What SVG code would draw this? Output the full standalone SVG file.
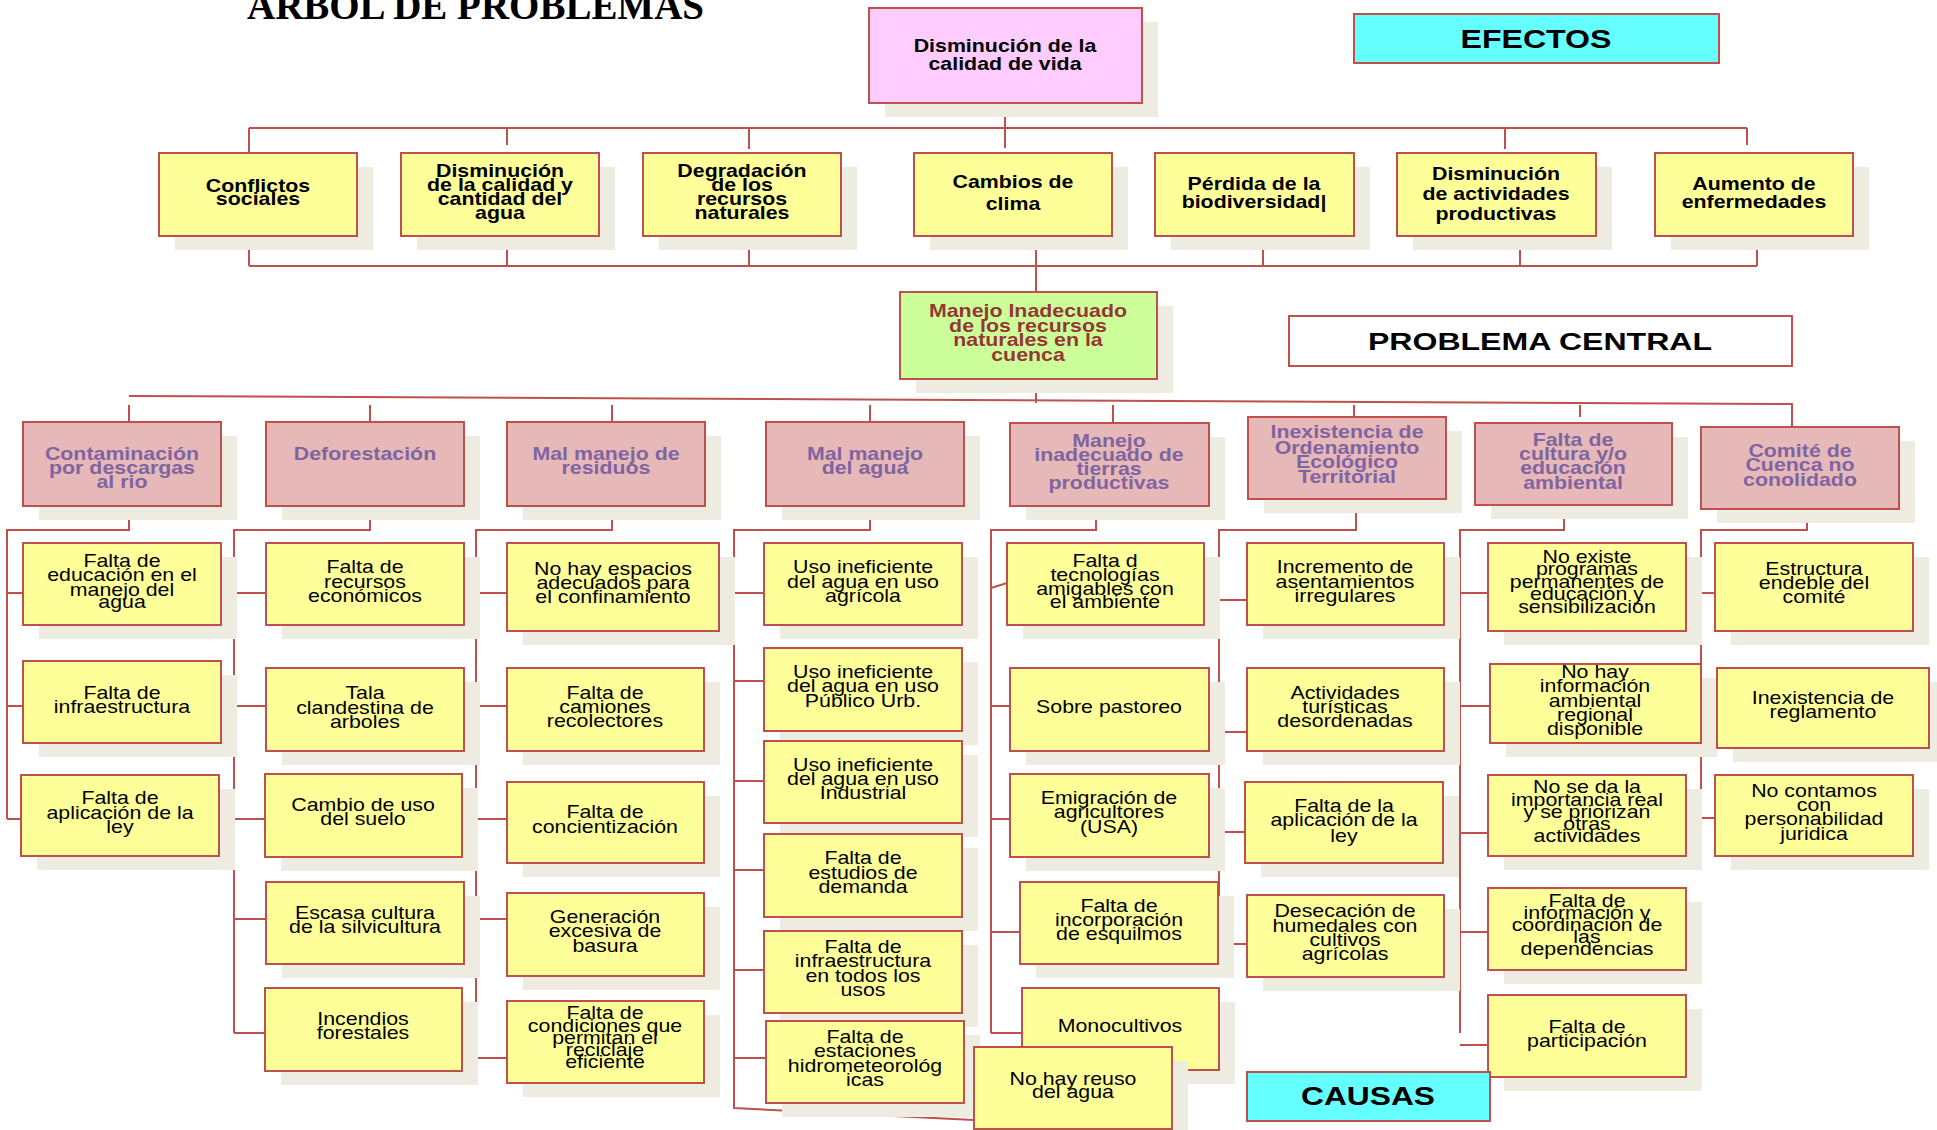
<svg xmlns="http://www.w3.org/2000/svg" width="1937" height="1130" viewBox="0 0 1937 1130">
<style>
.bx{stroke:#C0504D;stroke-width:2}
.y{fill:#FFFF99}
.c{fill:#E6B9B8}
.sh{fill:#EEECE1}
.t{font-family:"Liberation Sans",Arial,sans-serif;font-size:17.5px;text-anchor:middle;fill:#000}
.b{font-weight:bold}
.p{fill:#8064A2}
.r{fill:#953735}
.big{font-family:"Liberation Sans",Arial,sans-serif;font-weight:bold;text-anchor:middle;fill:#000}
.ln{stroke:#C0504D;stroke-width:2;fill:none}
</style>
<rect width="1937" height="1130" fill="#FFFFFF"/>
<text id="title" x="247" y="19" font-family="'Liberation Serif',serif" font-weight="bold" font-size="39" textLength="457" lengthAdjust="spacingAndGlyphs">ARBOL DE PROBLEMAS</text>

<g id="connectors">
<path class="ln" d="M1005 103V148M249 128H1747M249 128V153M507 128V145M749 128V149M1505 128V149M1747 128V145"/>
<path class="ln" d="M249 266H1757M249 241V266M507 241V266M749 241V266M1263 241V266M1520 241V266M1757 241V266M1036 241V292"/>
<path class="ln" d="M1036 379V403M129 396L1792 404V429M129 405V422M370 405V429M612 405V429M870 405V422M1113 405V423M1354 405V416M1580 405V417"/>
<path class="ln" d="M129 506V530H7V819M7 593H23M7 706H23M7 819H21"/>
<path class="ln" d="M370 506V530H234V1033M234 593H266M234 706H266M234 819H265M234 919H266M234 1033H280"/>
<path class="ln" d="M612 506V530H476V1058M476 593H507M476 706H507M476 819H507M476 919H507M476 1058H507"/>
<path class="ln" d="M870 506V530H734V1108L974 1120M734 593H764M734 681H764M734 781H764M734 870H764M734 970H764M734 1058H766"/>
<path class="ln" d="M1096 506V530H991V1033M991 588L1007 583M991 706H1010M991 819H1010M991 932H1020M991 1033H1022"/>
<path class="ln" d="M1356 499V530H1219V944M1219 600H1247M1219 732H1247M1219 832H1263M1219 944H1247"/>
<path class="ln" d="M1564 505V530H1460V1033M1460 593H1488M1460 706H1490M1460 833H1488M1460 932H1488M1460 1045H1488"/>
<path class="ln" d="M1807 509V530H1701V818M1686 593H1715M1701 706H1733M1701 818H1733"/>
</g>

<g id="n-top">
<rect class="sh" x="885" y="22" width="273" height="95"/>
<rect class="bx" fill="#FFCCFF" x="869" y="8" width="273" height="95"/>
<text class="t b" transform="matrix(1.22 0 0 1 1005 0)"><tspan x="0" y="52">Disminución de la</tspan><tspan x="0" y="70">calidad de vida</tspan></text>
</g>
<g id="l-efectos">
<rect class="bx" fill="#66FFFF" x="1354" y="14" width="365" height="49"/>
<text class="big" x="1536" y="48" font-size="25" textLength="151" lengthAdjust="spacingAndGlyphs">EFECTOS</text>
</g>

<g id="e1"><rect class="sh" x="175" y="167" width="198" height="83"/><rect class="bx y" x="159" y="153" width="198" height="83"/>
<text class="t b" transform="matrix(1.22 0 0 1 258 0)"><tspan x="0" y="192">Conflictos</tspan><tspan x="0" y="205">sociales</tspan></text></g>
<g id="e2"><rect class="sh" x="417" y="167" width="198" height="83"/><rect class="bx y" x="401" y="153" width="198" height="83"/>
<text class="t b" transform="matrix(1.22 0 0 1 500 0)"><tspan x="0" y="177">Disminución</tspan><tspan x="0" y="191">de la calidad y</tspan><tspan x="0" y="205">cantidad del</tspan><tspan x="0" y="219">agua</tspan></text></g>
<g id="e3"><rect class="sh" x="659" y="167" width="198" height="83"/><rect class="bx y" x="643" y="153" width="198" height="83"/>
<text class="t b" transform="matrix(1.22 0 0 1 742 0)"><tspan x="0" y="177">Degradación</tspan><tspan x="0" y="191">de los</tspan><tspan x="0" y="205">recursos</tspan><tspan x="0" y="219">naturales</tspan></text></g>
<g id="e4"><rect class="sh" x="930" y="167" width="198" height="83"/><rect class="bx y" x="914" y="153" width="198" height="83"/>
<text class="t b" transform="matrix(1.22 0 0 1 1013 0)"><tspan x="0" y="188">Cambios de</tspan><tspan x="0" y="210">clima</tspan></text></g>
<g id="e5"><rect class="sh" x="1171" y="167" width="199" height="83"/><rect class="bx y" x="1155" y="153" width="199" height="83"/>
<text class="t b" transform="matrix(1.22 0 0 1 1254 0)"><tspan x="0" y="190">Pérdida de la</tspan><tspan x="0" y="208">biodiversidad|</tspan></text></g>
<g id="e6"><rect class="sh" x="1413" y="167" width="199" height="83"/><rect class="bx y" x="1397" y="153" width="199" height="83"/>
<text class="t b" transform="matrix(1.22 0 0 1 1496 0)"><tspan x="0" y="180">Disminución</tspan><tspan x="0" y="200">de actividades</tspan><tspan x="0" y="220">productivas</tspan></text></g>
<g id="e7"><rect class="sh" x="1671" y="167" width="198" height="83"/><rect class="bx y" x="1655" y="153" width="198" height="83"/>
<text class="t b" transform="matrix(1.22 0 0 1 1754 0)"><tspan x="0" y="190">Aumento de</tspan><tspan x="0" y="208">enfermedades</tspan></text></g>

<g id="n-central">
<rect class="sh" x="916" y="306" width="257" height="87"/>
<rect class="bx" fill="#CCFF99" x="900" y="292" width="257" height="87"/>
<text class="t b r" transform="matrix(1.22 0 0 1 1028 0)"><tspan x="0" y="317">Manejo Inadecuado</tspan><tspan x="0" y="332">de los recursos</tspan><tspan x="0" y="346">naturales en la</tspan><tspan x="0" y="361">cuenca</tspan></text>
</g>
<g id="l-problema">
<rect class="bx" fill="#FFFFFF" x="1289" y="316" width="503" height="50"/>
<text class="big" x="1540" y="350" font-size="24" textLength="344" lengthAdjust="spacingAndGlyphs">PROBLEMA CENTRAL</text>
</g>

<g id="c1"><rect class="sh" x="39" y="436" width="198" height="84"/><rect class="bx c" x="23" y="422" width="198" height="84"/>
<text class="t b p" transform="matrix(1.22 0 0 1 122 0)"><tspan x="0" y="460">Contaminación</tspan><tspan x="0" y="474">por descargas</tspan><tspan x="0" y="488">al rio</tspan></text></g>
<g id="c2"><rect class="sh" x="282" y="436" width="198" height="84"/><rect class="bx c" x="266" y="422" width="198" height="84"/>
<text class="t b p" transform="matrix(1.22 0 0 1 365 0)"><tspan x="0" y="460">Deforestación</tspan></text></g>
<g id="c3"><rect class="sh" x="523" y="436" width="198" height="84"/><rect class="bx c" x="507" y="422" width="198" height="84"/>
<text class="t b p" transform="matrix(1.22 0 0 1 606 0)"><tspan x="0" y="460">Mal manejo de</tspan><tspan x="0" y="474">residuos</tspan></text></g>
<g id="c4"><rect class="sh" x="782" y="436" width="198" height="84"/><rect class="bx c" x="766" y="422" width="198" height="84"/>
<text class="t b p" transform="matrix(1.22 0 0 1 865 0)"><tspan x="0" y="460">Mal manejo</tspan><tspan x="0" y="474">del agua</tspan></text></g>
<g id="c5"><rect class="sh" x="1026" y="437" width="199" height="83"/><rect class="bx c" x="1010" y="423" width="199" height="83"/>
<text class="t b p" transform="matrix(1.22 0 0 1 1109 0)"><tspan x="0" y="447">Manejo</tspan><tspan x="0" y="461">inadecuado de</tspan><tspan x="0" y="475">tierras</tspan><tspan x="0" y="489">productivas</tspan></text></g>
<g id="c6"><rect class="sh" x="1264" y="431" width="198" height="82"/><rect class="bx c" x="1248" y="417" width="198" height="82"/>
<text class="t b p" transform="matrix(1.22 0 0 1 1347 0)"><tspan x="0" y="438">Inexistencia de</tspan><tspan x="0" y="454">Ordenamiento</tspan><tspan x="0" y="468">Ecológico</tspan><tspan x="0" y="483">Territorial</tspan></text></g>
<g id="c7"><rect class="sh" x="1491" y="437" width="197" height="82"/><rect class="bx c" x="1475" y="423" width="197" height="82"/>
<text class="t b p" transform="matrix(1.22 0 0 1 1573 0)"><tspan x="0" y="446">Falta de</tspan><tspan x="0" y="460">cultura y/o</tspan><tspan x="0" y="474">educación</tspan><tspan x="0" y="489">ambiental</tspan></text></g>
<g id="c8"><rect class="sh" x="1717" y="441" width="198" height="82"/><rect class="bx c" x="1701" y="427" width="198" height="82"/>
<text class="t b p" transform="matrix(1.22 0 0 1 1800 0)"><tspan x="0" y="457">Comité de</tspan><tspan x="0" y="471">Cuenca no</tspan><tspan x="0" y="486">conolidado</tspan></text></g>

<g id="k1a"><rect class="sh" x="39" y="557" width="198" height="82"/><rect class="bx y" x="23" y="543" width="198" height="82"/>
<text class="t" transform="matrix(1.22 0 0 1 122 0)"><tspan x="0" y="567">Falta de</tspan><tspan x="0" y="581">educación en el</tspan><tspan x="0" y="596">manejo del</tspan><tspan x="0" y="608">agua</tspan></text></g>
<g id="k1b"><rect class="sh" x="39" y="675" width="198" height="82"/><rect class="bx y" x="23" y="661" width="198" height="82"/>
<text class="t" transform="matrix(1.22 0 0 1 122 0)"><tspan x="0" y="699">Falta de</tspan><tspan x="0" y="713">infraestructura</tspan></text></g>
<g id="k1c"><rect class="sh" x="37" y="789" width="198" height="81"/><rect class="bx y" x="21" y="775" width="198" height="81"/>
<text class="t" transform="matrix(1.22 0 0 1 120 0)"><tspan x="0" y="804">Falta de</tspan><tspan x="0" y="819">aplicación de la</tspan><tspan x="0" y="833">ley</tspan></text></g>

<g id="k2a"><rect class="sh" x="282" y="557" width="198" height="82"/><rect class="bx y" x="266" y="543" width="198" height="82"/>
<text class="t" transform="matrix(1.22 0 0 1 365 0)"><tspan x="0" y="573">Falta de</tspan><tspan x="0" y="588">recursos</tspan><tspan x="0" y="602">económicos</tspan></text></g>
<g id="k2b"><rect class="sh" x="282" y="682" width="198" height="83"/><rect class="bx y" x="266" y="668" width="198" height="83"/>
<text class="t" transform="matrix(1.22 0 0 1 365 0)"><tspan x="0" y="699">Tala</tspan><tspan x="0" y="714">clandestina de</tspan><tspan x="0" y="728">arboles</tspan></text></g>
<g id="k2c"><rect class="sh" x="281" y="788" width="197" height="83"/><rect class="bx y" x="265" y="774" width="197" height="83"/>
<text class="t" transform="matrix(1.22 0 0 1 363 0)"><tspan x="0" y="811">Cambio de uso</tspan><tspan x="0" y="825">del suelo</tspan></text></g>
<g id="k2d"><rect class="sh" x="282" y="896" width="198" height="82"/><rect class="bx y" x="266" y="882" width="198" height="82"/>
<text class="t" transform="matrix(1.22 0 0 1 365 0)"><tspan x="0" y="919">Escasa cultura</tspan><tspan x="0" y="933">de la silvicultura</tspan></text></g>
<g id="k2e"><rect class="sh" x="281" y="1002" width="197" height="83"/><rect class="bx y" x="265" y="988" width="197" height="83"/>
<text class="t" transform="matrix(1.22 0 0 1 363 0)"><tspan x="0" y="1025">Incendios</tspan><tspan x="0" y="1039">forestales</tspan></text></g>

<g id="k3a"><rect class="sh" x="523" y="557" width="212" height="88"/><rect class="bx y" x="507" y="543" width="212" height="88"/>
<text class="t" transform="matrix(1.22 0 0 1 613 0)"><tspan x="0" y="575">No hay espacios</tspan><tspan x="0" y="589">adecuados para</tspan><tspan x="0" y="603">el confinamiento</tspan></text></g>
<g id="k3b"><rect class="sh" x="523" y="682" width="197" height="83"/><rect class="bx y" x="507" y="668" width="197" height="83"/>
<text class="t" transform="matrix(1.22 0 0 1 605 0)"><tspan x="0" y="699">Falta de</tspan><tspan x="0" y="713">camiones</tspan><tspan x="0" y="727">recolectores</tspan></text></g>
<g id="k3c"><rect class="sh" x="523" y="796" width="197" height="81"/><rect class="bx y" x="507" y="782" width="197" height="81"/>
<text class="t" transform="matrix(1.22 0 0 1 605 0)"><tspan x="0" y="818">Falta de</tspan><tspan x="0" y="833">concientización</tspan></text></g>
<g id="k3d"><rect class="sh" x="523" y="907" width="197" height="83"/><rect class="bx y" x="507" y="893" width="197" height="83"/>
<text class="t" transform="matrix(1.22 0 0 1 605 0)"><tspan x="0" y="923">Generación</tspan><tspan x="0" y="937">excesiva de</tspan><tspan x="0" y="952">basura</tspan></text></g>
<g id="k3e"><rect class="sh" x="523" y="1015" width="197" height="82"/><rect class="bx y" x="507" y="1001" width="197" height="82"/>
<text class="t" transform="matrix(1.22 0 0 1 605 0)"><tspan x="0" y="1019">Falta de</tspan><tspan x="0" y="1032">condiciones que</tspan><tspan x="0" y="1044">permitan el</tspan><tspan x="0" y="1056">reciclaje</tspan><tspan x="0" y="1068">eficiente</tspan></text></g>

<g id="k4a"><rect class="sh" x="780" y="557" width="198" height="82"/><rect class="bx y" x="764" y="543" width="198" height="82"/>
<text class="t" transform="matrix(1.22 0 0 1 863 0)"><tspan x="0" y="573">Uso ineficiente</tspan><tspan x="0" y="588">del agua en uso</tspan><tspan x="0" y="602">agrícola</tspan></text></g>
<g id="k4b"><rect class="sh" x="780" y="662" width="198" height="83"/><rect class="bx y" x="764" y="648" width="198" height="83"/>
<text class="t" transform="matrix(1.22 0 0 1 863 0)"><tspan x="0" y="678">Uso ineficiente</tspan><tspan x="0" y="692">del agua en uso</tspan><tspan x="0" y="707">Público Urb.</tspan></text></g>
<g id="k4c"><rect class="sh" x="780" y="755" width="198" height="82"/><rect class="bx y" x="764" y="741" width="198" height="82"/>
<text class="t" transform="matrix(1.22 0 0 1 863 0)"><tspan x="0" y="771">Uso ineficiente</tspan><tspan x="0" y="785">del agua en uso</tspan><tspan x="0" y="799">Industrial</tspan></text></g>
<g id="k4d"><rect class="sh" x="780" y="848" width="198" height="83"/><rect class="bx y" x="764" y="834" width="198" height="83"/>
<text class="t" transform="matrix(1.22 0 0 1 863 0)"><tspan x="0" y="864">Falta de</tspan><tspan x="0" y="879">estudios de</tspan><tspan x="0" y="893">demanda</tspan></text></g>
<g id="k4e"><rect class="sh" x="780" y="945" width="198" height="82"/><rect class="bx y" x="764" y="931" width="198" height="82"/>
<text class="t" transform="matrix(1.22 0 0 1 863 0)"><tspan x="0" y="953">Falta de</tspan><tspan x="0" y="967">infraestructura</tspan><tspan x="0" y="982">en todos los</tspan><tspan x="0" y="996">usos</tspan></text></g>
<g id="k4f"><rect class="sh" x="782" y="1035" width="198" height="82"/><rect class="bx y" x="766" y="1021" width="198" height="82"/>
<text class="t" transform="matrix(1.22 0 0 1 865 0)"><tspan x="0" y="1043">Falta de</tspan><tspan x="0" y="1057">estaciones</tspan><tspan x="0" y="1072">hidrometeorológ</tspan><tspan x="0" y="1086">icas</tspan></text></g>

<g id="k5a"><rect class="sh" x="1023" y="557" width="197" height="82"/><rect class="bx y" x="1007" y="543" width="197" height="82"/>
<text class="t" transform="matrix(1.22 0 0 1 1105 0)"><tspan x="0" y="567">Falta d</tspan><tspan x="0" y="581">tecnologías</tspan><tspan x="0" y="595">amigables con</tspan><tspan x="0" y="608">el ambiente</tspan></text></g>
<g id="k5b"><rect class="sh" x="1026" y="682" width="199" height="83"/><rect class="bx y" x="1010" y="668" width="199" height="83"/>
<text class="t" transform="matrix(1.22 0 0 1 1109 0)"><tspan x="0" y="713">Sobre pastoreo</tspan></text></g>
<g id="k5c"><rect class="sh" x="1026" y="788" width="199" height="83"/><rect class="bx y" x="1010" y="774" width="199" height="83"/>
<text class="t" transform="matrix(1.22 0 0 1 1109 0)"><tspan x="0" y="804">Emigración de</tspan><tspan x="0" y="818">agricultores</tspan><tspan x="0" y="833">(USA)</tspan></text></g>
<g id="k5d"><rect class="sh" x="1036" y="896" width="198" height="82"/><rect class="bx y" x="1020" y="882" width="198" height="82"/>
<text class="t" transform="matrix(1.22 0 0 1 1119 0)"><tspan x="0" y="912">Falta de</tspan><tspan x="0" y="926">incorporación</tspan><tspan x="0" y="940">de esquilmos</tspan></text></g>
<g id="k5e"><rect class="sh" x="1038" y="1002" width="197" height="82"/><rect class="bx y" x="1022" y="988" width="197" height="82"/>
<text class="t" transform="matrix(1.22 0 0 1 1120 0)"><tspan x="0" y="1032">Monocultivos</tspan></text></g>

<g id="k6a"><rect class="sh" x="1263" y="557" width="197" height="82"/><rect class="bx y" x="1247" y="543" width="197" height="82"/>
<text class="t" transform="matrix(1.22 0 0 1 1345 0)"><tspan x="0" y="573">Incremento de</tspan><tspan x="0" y="588">asentamientos</tspan><tspan x="0" y="602">irregulares</tspan></text></g>
<g id="k6b"><rect class="sh" x="1263" y="682" width="197" height="83"/><rect class="bx y" x="1247" y="668" width="197" height="83"/>
<text class="t" transform="matrix(1.22 0 0 1 1345 0)"><tspan x="0" y="699">Actividades</tspan><tspan x="0" y="713">turísticas</tspan><tspan x="0" y="727">desordenadas</tspan></text></g>
<g id="k6c"><rect class="sh" x="1261" y="796" width="198" height="81"/><rect class="bx y" x="1245" y="782" width="198" height="81"/>
<text class="t" transform="matrix(1.22 0 0 1 1344 0)"><tspan x="0" y="812">Falta de la</tspan><tspan x="0" y="826">aplicación de la</tspan><tspan x="0" y="842">ley</tspan></text></g>
<g id="k6d"><rect class="sh" x="1263" y="909" width="197" height="82"/><rect class="bx y" x="1247" y="895" width="197" height="82"/>
<text class="t" transform="matrix(1.22 0 0 1 1345 0)"><tspan x="0" y="917">Desecación de</tspan><tspan x="0" y="932">humedales con</tspan><tspan x="0" y="946">cultivos</tspan><tspan x="0" y="960">agrícolas</tspan></text></g>

<g id="k7a"><rect class="sh" x="1504" y="557" width="198" height="88"/><rect class="bx y" x="1488" y="543" width="198" height="88"/>
<text class="t" transform="matrix(1.22 0 0 1 1587 0)"><tspan x="0" y="563">No existe</tspan><tspan x="0" y="575">programas</tspan><tspan x="0" y="588">permanentes de</tspan><tspan x="0" y="600">educación y</tspan><tspan x="0" y="613">sensibilización</tspan></text></g>
<g id="k7b"><rect class="sh" x="1506" y="678" width="211" height="79"/><rect class="bx y" x="1490" y="664" width="211" height="79"/>
<text class="t" transform="matrix(1.22 0 0 1 1595 0)"><tspan x="0" y="678">No hay</tspan><tspan x="0" y="692">información</tspan><tspan x="0" y="707">ambiental</tspan><tspan x="0" y="721">regional</tspan><tspan x="0" y="735">disponible</tspan></text></g>
<g id="k7c"><rect class="sh" x="1504" y="789" width="198" height="81"/><rect class="bx y" x="1488" y="775" width="198" height="81"/>
<text class="t" transform="matrix(1.22 0 0 1 1587 0)"><tspan x="0" y="793">No se da la</tspan><tspan x="0" y="806">importancia real</tspan><tspan x="0" y="818">y se priorizan</tspan><tspan x="0" y="830">otras</tspan><tspan x="0" y="842">actividades</tspan></text></g>
<g id="k7d"><rect class="sh" x="1504" y="902" width="198" height="82"/><rect class="bx y" x="1488" y="888" width="198" height="82"/>
<text class="t" transform="matrix(1.22 0 0 1 1587 0)"><tspan x="0" y="907">Falta de</tspan><tspan x="0" y="919">información y</tspan><tspan x="0" y="931">coordinación de</tspan><tspan x="0" y="943">las</tspan><tspan x="0" y="955">dependencias</tspan></text></g>
<g id="k7e"><rect class="sh" x="1504" y="1009" width="198" height="82"/><rect class="bx y" x="1488" y="995" width="198" height="82"/>
<text class="t" transform="matrix(1.22 0 0 1 1587 0)"><tspan x="0" y="1033">Falta de</tspan><tspan x="0" y="1047">participación</tspan></text></g>

<g id="k8a"><rect class="sh" x="1731" y="557" width="198" height="88"/><rect class="bx y" x="1715" y="543" width="198" height="88"/>
<text class="t" transform="matrix(1.22 0 0 1 1814 0)"><tspan x="0" y="575">Estructura</tspan><tspan x="0" y="589">endeble del</tspan><tspan x="0" y="603">comité</tspan></text></g>
<g id="k8b"><rect class="sh" x="1733" y="682" width="204" height="80"/><rect class="bx y" x="1717" y="668" width="212" height="80"/>
<text class="t" transform="matrix(1.22 0 0 1 1823 0)"><tspan x="0" y="704">Inexistencia de</tspan><tspan x="0" y="718">reglamento</tspan></text></g>
<g id="k8c"><rect class="sh" x="1731" y="789" width="198" height="81"/><rect class="bx y" x="1715" y="775" width="198" height="81"/>
<text class="t" transform="matrix(1.22 0 0 1 1814 0)"><tspan x="0" y="797">No contamos</tspan><tspan x="0" y="811">con</tspan><tspan x="0" y="825">personabilidad</tspan><tspan x="0" y="840">juridica</tspan></text></g>

<g id="k5f"><rect class="sh" x="990" y="1061" width="198" height="82"/><rect class="bx y" x="974" y="1047" width="198" height="82"/>
<text class="t" transform="matrix(1.22 0 0 1 1073 0)"><tspan x="0" y="1085">No hay reuso</tspan><tspan x="0" y="1098">del agua</tspan></text></g>

<g id="l-causas">
<rect class="bx" fill="#66FFFF" x="1247" y="1072" width="243" height="49"/>
<text class="big" x="1368" y="1105" font-size="25" textLength="134" lengthAdjust="spacingAndGlyphs">CAUSAS</text>
</g>
</svg>
